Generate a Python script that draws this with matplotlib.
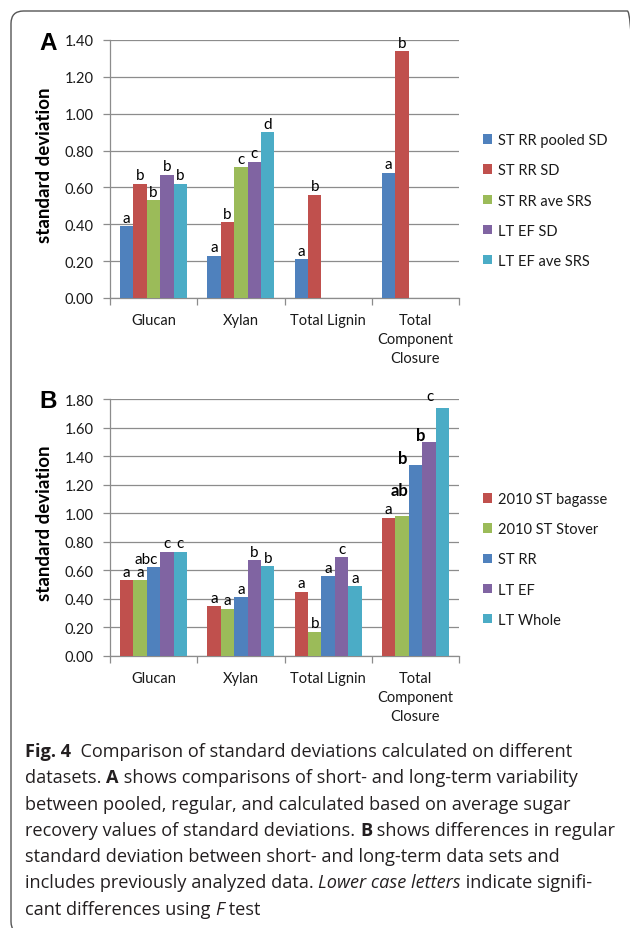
import matplotlib
matplotlib.use("Agg")
import matplotlib.pyplot as plt
import numpy as np
from matplotlib.patches import FancyBboxPatch, Patch

plt.rcParams['font.family'] = ['Lato', 'DejaVu Sans']

categories = ["Glucan", "Xylan", "Total Lignin", "Total\nComponent\nClosure"]

# Panel A
series_a = ["ST RR pooled SD", "ST RR SD", "ST RR ave SRS", "LT EF SD", "LT EF ave SRS"]
a_pooled = [0.39, 0.23, 0.21, 0.68]
a_rr_sd = [0.62, 0.41, 0.56, 1.34]
a_ave_srs = [0.53, 0.71, np.nan, np.nan]
a_ltef_sd = [0.67, 0.74, np.nan, np.nan]
a_ltef_srs = [0.62, 0.90, np.nan, np.nan]
values_a = [a_pooled, a_rr_sd, a_ave_srs, a_ltef_sd, a_ltef_srs]
letters_a = [["a", "a", "a", "a"], ["b", "b", "b", "b"], ["b", "c", "", ""],
             ["b", "c", "", ""], ["b", "d", "", ""]]
yticks_a = [0.0, 0.2, 0.4, 0.6, 0.8, 1.0, 1.2, 1.4]

# Panel B
series_b = ["2010 ST bagasse", "2010 ST Stover", "ST RR", "LT EF", "LT Whole"]
b_bagasse = [0.53, 0.35, 0.45, 0.97]
b_stover = [0.53, 0.33, 0.17, 0.98]
b_strr = [0.62, 0.41, 0.56, 1.34]
b_ltef = [0.73, 0.67, 0.69, 1.50]
b_whole = [0.73, 0.63, 0.49, 1.74]
values_b = [b_bagasse, b_stover, b_strr, b_ltef, b_whole]
letters_b = [["a", "a", "a", "a"], ["a", "a", "b", "ab"], ["abc", "a", "a", "b"],
             ["c", "b", "c", "b"], ["c", "b", "a", "c"]]
bold_b = [[False]*4, [False, False, False, True], [False, False, False, True],
          [False, False, False, True], [False]*4]
yticks_b = [0.0, 0.2, 0.4, 0.6, 0.8, 1.0, 1.2, 1.4, 1.6, 1.8]

colors_a = ["#4F81BD", "#C0504D", "#9BBB59", "#8064A2", "#4BACC6"]
colors_b = ["#C0504D", "#9BBB59", "#4F81BD", "#8064A2", "#4BACC6"]

# label offsets (points) for a few hand-placed letters in panel B
offsets_b = {(1, 3): (-2, 12), (2, 3): (-9, -2), (3, 3): (-6, -2), (4, 3): (-9, 2),
             (2, 0): (-5, 0)}

W, H = 630, 929
fig = plt.figure(figsize=(W/100, H/100), dpi=100)

GRID = "#8c8c8c"
TXT = "#1a1a1a"


def px_axes(x0, y0, x1, y1):
    return fig.add_axes([x0/W, 1 - y1/H, (x1-x0)/W, (y1-y0)/H])


def draw_panel(ax, values, colors, letters, bold, yticks, ymax, offsets):
    n = len(values)
    bw = 1.0/(n + 1.5)
    x = np.arange(len(categories))
    for i, (vals, c) in enumerate(zip(values, colors)):
        pos = x + (i - (n-1)/2)*bw
        ax.bar(pos, vals, width=bw, color=c, edgecolor="none", zorder=3)
        for j, v in enumerate(vals):
            lab = letters[i][j]
            if not lab or np.isnan(v):
                continue
            dx, dy = offsets.get((i, j), (0, 0))
            isb = bold[i][j] if bold else False
            ax.annotate(lab, (pos[j], v), xytext=(dx, 1 + dy), textcoords="offset points",
                        ha="center", va="bottom", fontsize=12 if isb else 11,
                        fontweight="bold" if isb else "normal", color="black", zorder=4)
    ax.set_xlim(-0.5, len(categories) - 0.5)
    ax.set_ylim(0, ymax)
    ax.set_yticks(yticks)
    ax.set_yticklabels([f"{t:.2f}" for t in yticks])
    ax.set_xticks(x)
    ax.set_xticklabels(categories)
    ax.set_xticks(np.arange(len(categories)+1) - 0.5, minor=True)
    ax.tick_params(axis="x", which="major", length=0, pad=11, labelsize=10.5, colors=TXT)
    ax.tick_params(axis="x", which="minor", length=5, color=GRID, width=0.9)
    ax.tick_params(axis="y", length=5, color=GRID, width=0.9, pad=7, labelsize=10.5,
                   labelcolor=TXT)
    for lab in ax.get_xticklabels():
        lab.set_linespacing(1.45)
    ax.grid(axis="y", color=GRID, linewidth=0.9, zorder=0)
    ax.set_axisbelow(True)
    for s in ("top", "right"):
        ax.spines[s].set_visible(False)
    for s in ("left", "bottom"):
        ax.spines[s].set_color(GRID)
        ax.spines[s].set_linewidth(0.9)
    ax.set_ylabel("standard deviation", fontsize=13.5, fontweight="bold", color="black")
    ax.yaxis.set_label_coords(-0.163, 0.52)


axA = px_axes(110, 41, 459, 299)
draw_panel(axA, values_a, colors_a, letters_a, None, yticks_a, 1.4, {})
axB = px_axes(110, 400, 459, 657)
draw_panel(axB, values_b, colors_b, letters_b, bold_b, yticks_b, 1.8, offsets_b)


def legend(ax, labels, colors, ycenter):
    handles = [Patch(facecolor=c, edgecolor="none") for c in colors]
    ax.legend(handles, labels, loc="center left",
              bbox_to_anchor=(483/W, 1 - ycenter/H), bbox_transform=fig.transFigure,
              frameon=False, borderpad=0, borderaxespad=0, fontsize=10.5,
              handlelength=0.65, handleheight=0.65, handletextpad=0.35,
              labelspacing=1.1, labelcolor=TXT)


legend(axA, series_a, colors_a, 201.5)
legend(axB, series_b, colors_b, 560.5)

fig.text(39/W, 1 - 50/H, "A", fontsize=17.5, fontweight="bold",
         family=["Liberation Sans"], va="baseline", ha="left")
fig.text(39/W, 1 - 408/H, "B", fontsize=17.5, fontweight="bold",
         family=["Liberation Sans"], va="baseline", ha="left")

# frame
frame = FancyBboxPatch((11/W, -6/H), (640-11)/W, (929-12+6)/H,
                       boxstyle="round,pad=0,rounding_size=0.02",
                       transform=fig.transFigure, facecolor="none",
                       edgecolor="#555555", linewidth=1.0, mutation_aspect=W/H)
fig.patches.append(frame)

# caption
caption = [
    [("Fig. 4", "bold"), ("  Comparison of standard deviations calculated on different", "normal")],
    [("datasets. ", "normal"), ("A", "bold"), (" shows comparisons of short- and long-term variability", "normal")],
    [("between pooled, regular, and calculated based on average sugar", "normal")],
    [("recovery values of standard deviations. ", "normal"), ("B", "bold"), (" shows differences in regular", "normal")],
    [("standard deviation between short- and long-term data sets and", "normal")],
    [("includes previously analyzed data. ", "normal"), ("Lower case letters", "italic"), (" indicate signifi-", "normal")],
    [("cant differences using ", "normal"), ("F", "italic"), (" test", "normal")],
]
cap_font = ["Open Sans", "DejaVu Sans"]
cap_size = 13.1
base0, step = 757, 26.3
renderer = fig.canvas.get_renderer()
for k, line in enumerate(caption):
    x = 25
    y = 1 - (base0 + k*step)/H
    for txt, sty in line:
        t = fig.text(x/W, y, txt, fontsize=cap_size, family=cap_font,
                     fontweight="bold" if sty == "bold" else "normal",
                     fontstyle="italic" if sty == "italic" else "normal",
                     va="baseline", ha="left", color="#231f20")
        bb = t.get_window_extent(renderer=renderer)
        x += bb.width

fig.savefig("out.png", dpi=100)
